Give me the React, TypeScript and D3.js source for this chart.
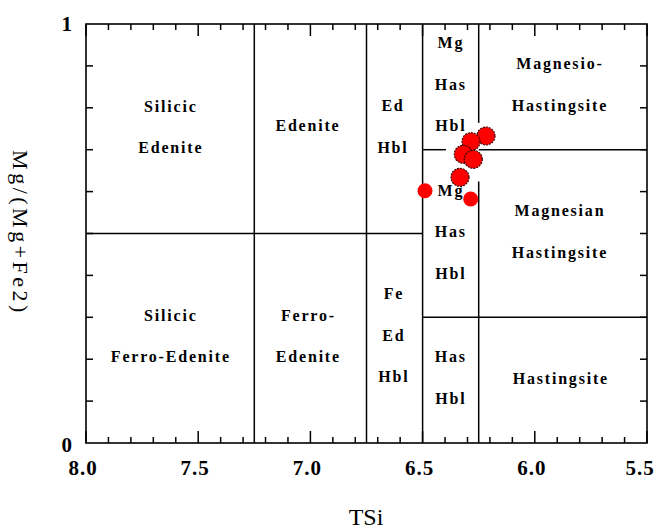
import React from "react";
import * as d3 from "d3";

// ---- data ----
const xTicksMajor = [8.0, 7.5, 7.0, 6.5, 6.0, 5.5];
const xTickLabels = ["8.0", "7.5", "7.0", "6.5", "6.0", "5.5"];
const yTickLabels = ["0", "1"];

// field boundaries: [x1, y1, x2, y2] in data units (TSi, Mg/(Mg+Fe2))
const boundaries: [number, number, number, number][] = [
  [7.25, 0, 7.25, 1],
  [6.75, 0, 6.75, 1],
  [6.5, 0, 6.5, 1],
  [6.25, 0, 6.25, 0.624],
  [6.25, 0.764, 6.25, 1],
  [8.0, 0.5, 6.5, 0.5],
  [6.5, 0.7, 6.396, 0.7],
  [6.25, 0.7, 5.5, 0.7],
  [6.5, 0.3, 5.5, 0.3],
];

// field names: lines, centre TSi, centre Mg#
const fieldLines: string[][] = [
  ["Silicic", "Edenite"],
  ["Edenite"],
  ["Ed", "Hbl"],
  ["Mg", "Has", "Hbl"],
  ["Magnesio-", "Hastingsite"],
  ["Mg", "Has", "Hbl"],
  ["Magnesian", "Hastingsite"],
  ["Silicic", "Ferro-Edenite"],
  ["Ferro-", "Edenite"],
  ["Fe", "Ed", "Hbl"],
  ["Has", "Hbl"],
  ["Hastingsite"],
];
const fieldX = [7.626, 7.015, 6.636, 6.378, 5.892, 6.378, 5.892, 7.626, 7.013, 6.632, 6.378, 5.888];
const fieldY = [0.754, 0.757, 0.755, 0.856, 0.856, 0.504, 0.505, 0.255, 0.255, 0.257, 0.156, 0.155];

// samples
const sampleTSi = [6.2175, 6.2843, 6.3186, 6.2741, 6.3333, 6.4893, 6.2857];
const sampleMg = [0.7327, 0.7191, 0.689, 0.6771, 0.6341, 0.6021, 0.5823];
const sampleLarge = [true, true, true, true, true, false, false];

const W = 656;
const H = 529;
const serif = "Liberation Serif, Times New Roman, DejaVu Serif, serif";

export default function App() {
  const x = d3.scaleLinear().domain([8, 5.5]).range([86, 647]);
  const y = d3.scaleLinear().domain([0, 1]).range([443, 24]);

  const minorX = d3.range(0, 26).map((i) => 8 - i * 0.1);
  const minorY = d3.range(1, 10).map((i) => i * 0.1);
  const lineGap = 41.5;

  return (
    <svg
      width={W}
      height={H}
      style={{ position: "absolute", left: 0, top: 0, background: "#fff" }}
    >
      <rect x={0} y={0} width={W} height={H} fill="#fff" />
      {/* frame */}
      <rect
        x={x(8)}
        y={y(1)}
        width={x(5.5) - x(8)}
        height={y(0) - y(1)}
        fill="none"
        stroke="#000"
        strokeWidth={1.6}
      />
      {/* x ticks bottom and top */}
      {minorX.map((v, i) => {
        const major = i % 5 === 0;
        const len = major ? 12 : 6;
        return (
          <g key={"xt" + i}>
            <line x1={x(v)} x2={x(v)} y1={y(0)} y2={y(0) - len} stroke="#000" strokeWidth={1.5} />
            <line x1={x(v)} x2={x(v)} y1={y(1)} y2={y(1) + len} stroke="#000" strokeWidth={1.5} />
          </g>
        );
      })}
      {/* y ticks left and right */}
      {minorY.map((v, i) => (
        <g key={"yt" + i}>
          <line x1={x(8)} x2={x(8) + 7} y1={y(v)} y2={y(v)} stroke="#000" strokeWidth={1.5} />
          <line x1={x(5.5)} x2={x(5.5) - 7} y1={y(v)} y2={y(v)} stroke="#000" strokeWidth={1.5} />
        </g>
      ))}
      {/* boundaries */}
      {boundaries.map((b, i) => (
        <line
          key={"b" + i}
          x1={x(b[0])}
          y1={y(b[1])}
          x2={x(b[2])}
          y2={y(b[3])}
          stroke="#000"
          strokeWidth={1.5}
        />
      ))}
      {/* field labels */}
      {fieldLines.map((lines, i) => {
        const cx = x(fieldX[i]);
        const cy = y(fieldY[i]);
        const n = lines.length;
        return lines.map((t, j) => (
          <text
            key={"f" + i + "_" + j}
            x={cx + 0.9}
            y={cy + (j - (n - 1) / 2) * lineGap}
            textAnchor="middle"
            dominantBaseline="central"
            fontFamily={serif}
            fontWeight="bold"
            fontSize={16}
            letterSpacing={1.8}
            fill="#000"
          >
            {t}
          </text>
        ));
      })}
      {/* samples */}
      {sampleTSi.map((v, i) => (
        <circle
          key={"s" + i}
          cx={x(v)}
          cy={y(sampleMg[i])}
          r={sampleLarge[i] ? 9 : 7.5}
          fill="#ff0000"
          stroke={sampleLarge[i] ? "#3a0000" : "none"}
          strokeWidth={1.2}
          strokeDasharray={sampleLarge[i] ? "2,1" : undefined}
        />
      ))}
      {/* x tick labels */}
      {xTicksMajor.map((v, i) => (
        <text
          key={"xl" + i}
          x={i === xTicksMajor.length - 1 ? x(v) - 7 : x(v) - 3}
          y={468}
          textAnchor="middle"
          dominantBaseline="central"
          fontFamily={serif}
          fontWeight="bold"
          fontSize={21}
          letterSpacing={1}
          fill="#000"
        >
          {xTickLabels[i]}
        </text>
      ))}
      {/* y tick labels */}
      {yTickLabels.map((t, i) => (
        <text
          key={"yl" + i}
          x={72}
          y={y(i) + (i === 0 ? 2 : 0)}
          textAnchor="end"
          dominantBaseline="central"
          fontFamily={serif}
          fontWeight="bold"
          fontSize={21}
          fill="#000"
        >
          {t}
        </text>
      ))}
      {/* axis titles */}
      <text
        x={366}
        y={517}
        textAnchor="middle"
        dominantBaseline="central"
        fontFamily={serif}
        fontSize={24}
        fill="#000"
      >
        TSi
      </text>
      <text
        transform={`translate(20, 233) rotate(90)`}
        textAnchor="middle"
        dominantBaseline="central"
        fontFamily={serif}
        fontSize={22}
        letterSpacing={3.5}
        fill="#000"
      >
        Mg/(Mg+Fe2)
      </text>
    </svg>
  );
}
